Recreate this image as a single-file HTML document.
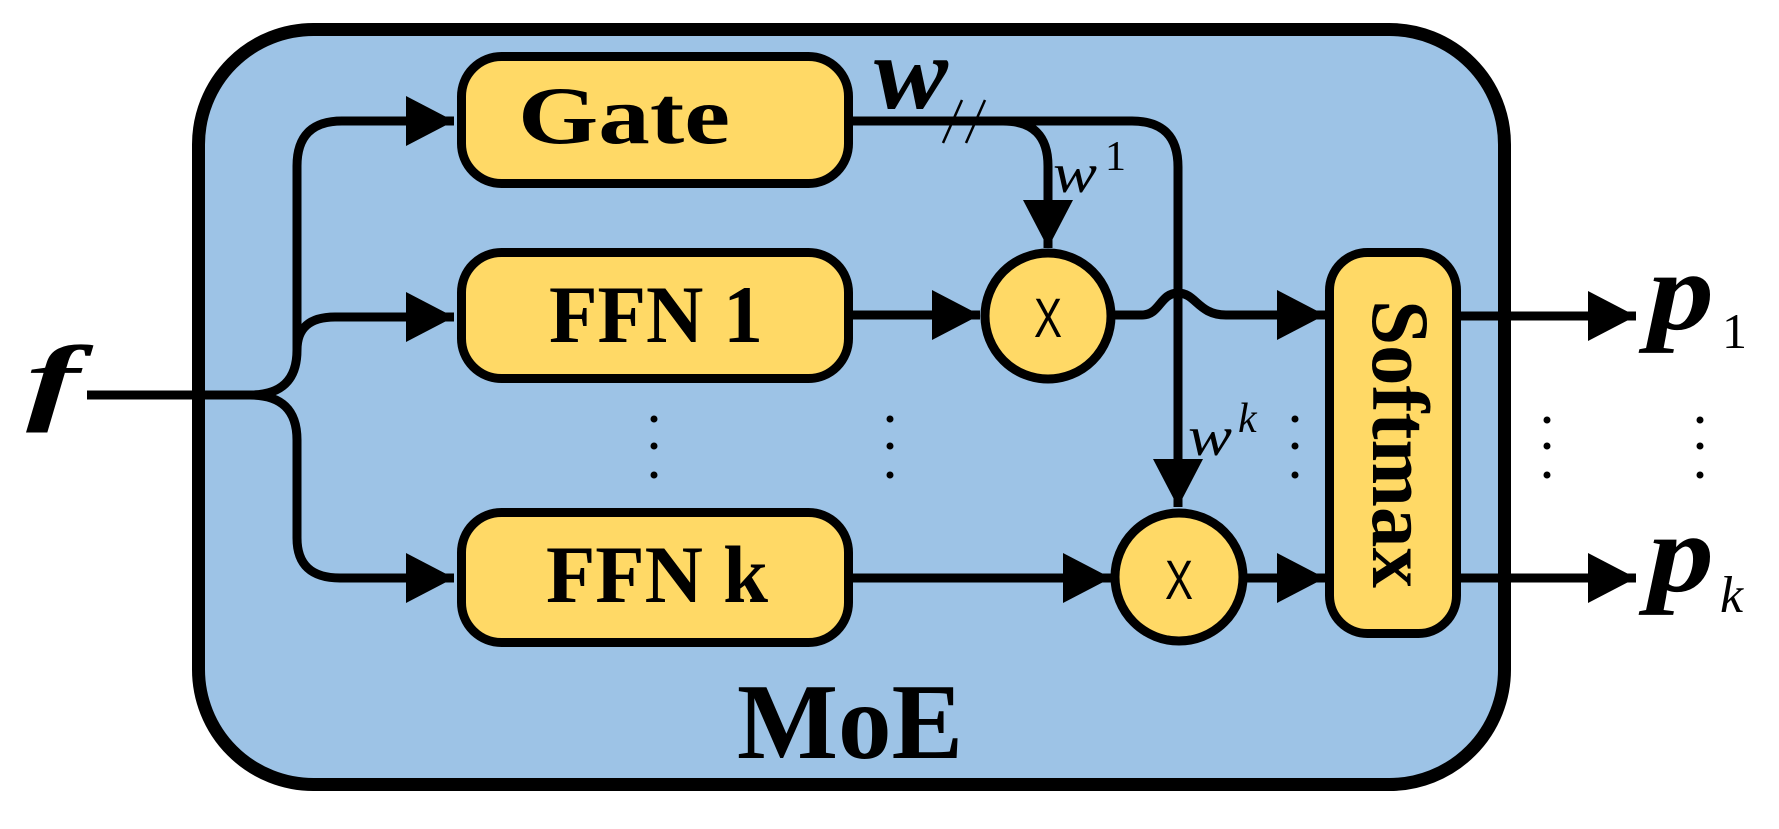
<!DOCTYPE html>
<html><head><meta charset="utf-8"><style>html,body{margin:0;padding:0;background:#fff}svg{display:block}</style></head>
<body>
<svg width="1779" height="829" viewBox="0 0 1779 829" xmlns="http://www.w3.org/2000/svg">
<defs>
<marker id="ah" markerUnits="userSpaceOnUse" markerWidth="50" markerHeight="52" refX="48" refY="25" orient="auto"><path d="M0,0 L48,25 L0,50 Z" fill="#000"/></marker>
</defs>
<rect x="198.5" y="29.5" width="1306" height="755" rx="115" fill="#9dc3e6" stroke="#000" stroke-width="13"/>
<text x="26" y="412" font-family="Liberation Serif, serif" font-style="italic" font-weight="bold" font-size="96" textLength="54" lengthAdjust="spacingAndGlyphs">f</text>
<g fill="none" stroke="#000" stroke-width="9">
<path d="M87,395 H250 Q297,395 297,350 V166 Q297,121 342,121 H454" marker-end="url(#ah)"/>
<path d="M297,350 Q297,317 335,317 H454" marker-end="url(#ah)"/>
<path d="M250,395 Q297,395 297,440 V538 Q297,578 340,578 H454" marker-end="url(#ah)"/>
<path d="M853,121 H1132 Q1178,121 1178,167 V507" marker-end="url(#ah)"/>
<path d="M1003,121 Q1048,121 1048,166 V248" marker-end="url(#ah)"/>
<path d="M853,315 H980" marker-end="url(#ah)"/>
<path d="M1111,315 H1142 C1160,315 1160,293 1178,293 C1196,293 1198,315 1226,315 H1325" marker-end="url(#ah)"/>
<path d="M853,578 H1111" marker-end="url(#ah)"/>
<path d="M1247,578 H1325" marker-end="url(#ah)"/>
<path d="M1461,316 H1636" marker-end="url(#ah)"/>
<path d="M1461,578 H1636" marker-end="url(#ah)"/>
</g>
<g fill="#ffd966" stroke="#000" stroke-width="9">
<rect x="461.5" y="56.5" width="387" height="127" rx="40"/>
<rect x="461.5" y="252.5" width="387" height="126" rx="40"/>
<rect x="461.5" y="512.5" width="387" height="130" rx="40"/>
<rect x="1329.5" y="252.5" width="127" height="381" rx="38"/>
<circle cx="1048" cy="316" r="63"/>
<circle cx="1179" cy="577" r="64"/>
</g>
<g font-family="Liberation Serif, serif" font-weight="bold" font-size="82" text-anchor="middle">
<text x="624" y="143" textLength="212" lengthAdjust="spacingAndGlyphs">Gate</text>
<text x="656" y="342" textLength="214" lengthAdjust="spacingAndGlyphs">FFN 1</text>
<text x="657" y="602" textLength="222" lengthAdjust="spacingAndGlyphs">FFN k</text>
<text x="850" y="758" font-size="108" textLength="226" lengthAdjust="spacingAndGlyphs">MoE</text>
<text transform="translate(1373,444) rotate(90)" x="0" y="0" textLength="288" lengthAdjust="spacingAndGlyphs">Softmax</text>
</g>
<g font-family="Liberation Sans, sans-serif" font-size="56" text-anchor="middle">
<text x="1048" y="337" textLength="28" lengthAdjust="spacingAndGlyphs">X</text>
<text x="1179" y="599" textLength="28" lengthAdjust="spacingAndGlyphs">X</text>
</g>
<text x="874" y="108" font-family="Liberation Serif, serif" font-style="italic" font-weight="bold" font-size="104" textLength="74" lengthAdjust="spacingAndGlyphs">w</text>
<g stroke="#000" stroke-width="2.5"><line x1="962" y1="100" x2="943" y2="143"/><line x1="985" y1="100" x2="966" y2="143"/></g>
<g font-family="Liberation Serif, serif" font-style="italic" font-size="56">
<text x="1053" y="192" textLength="44" lengthAdjust="spacingAndGlyphs">w</text>
<text x="1188" y="455" textLength="44" lengthAdjust="spacingAndGlyphs">w</text>
</g>
<text x="1105" y="170" font-family="Liberation Serif, serif" font-size="42">1</text>
<text x="1238" y="432" font-family="Liberation Serif, serif" font-style="italic" font-size="42">k</text>
<g font-family="Liberation Serif, serif" font-style="italic" font-weight="bold" font-size="112">
<text x="1648" y="329" textLength="66" lengthAdjust="spacingAndGlyphs">p</text>
<text x="1648" y="591" textLength="66" lengthAdjust="spacingAndGlyphs">p</text>
</g>
<text x="1722" y="348" font-family="Liberation Serif, serif" font-size="50">1</text>
<text x="1720" y="612" font-family="Liberation Serif, serif" font-style="italic" font-size="52">k</text>
<g fill="#000">
<circle cx="654" cy="419" r="3.5"/><circle cx="654" cy="446" r="3.5"/><circle cx="654" cy="475" r="3.5"/>
<circle cx="890" cy="419" r="3.5"/><circle cx="890" cy="446" r="3.5"/><circle cx="890" cy="475" r="3.5"/>
<circle cx="1295" cy="419" r="3.5"/><circle cx="1295" cy="446" r="3.5"/><circle cx="1295" cy="475" r="3.5"/>
<circle cx="1547" cy="420" r="3.5"/><circle cx="1547" cy="446" r="3.5"/><circle cx="1547" cy="475" r="3.5"/>
<circle cx="1700" cy="420" r="3.5"/><circle cx="1700" cy="446" r="3.5"/><circle cx="1700" cy="475" r="3.5"/>
</g>
</svg>
</body></html>
